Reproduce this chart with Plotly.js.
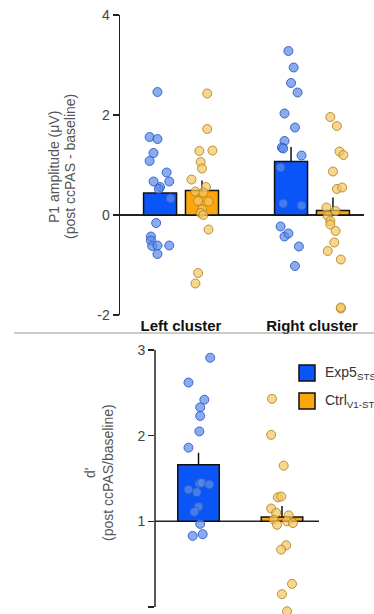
<!DOCTYPE html>
<html>
<head>
<meta charset="utf-8">
<script src="https://cdn.plot.ly/plotly-3.0.1.min.js"></script>
<style>html,body{margin:0;padding:0;background:#fff;}#chart{width:374px;height:614px;}</style>
</head>
<body>
<div id="chart"></div>
<script>
// ---------- DATA ----------
const clusters = ["Left cluster", "Right cluster"];
const seriesNames = ["Exp5<sub>STS</sub>", "Ctrl<sub>V1-STS</sub>"];

// Top panel: P1 amplitude (post ccPAS - baseline)
const p1ExpMean = [0.44, 1.07];
const p1ExpSem  = [0.14, 0.29];
const p1CtrlMean = [0.49, 0.09];
const p1CtrlSem  = [0.20, 0.26];

const p1ExpLeft = [2.46,1.56,1.52,1.24,1.08,0.85,0.67,0.67,0.56,0.52,0.33,-0.16,-0.43,-0.51,-0.62,-0.61,-0.61,-0.78];
const p1ExpLeftJit = [-0.02,-0.08,-0.02,-0.05,-0.08,0.05,-0.05,0.07,0,-0.01,0.08,-0.03,-0.07,-0.07,-0.06,-0.02,0.07,-0.02];
const p1CtrlLeft = [2.43,1.72,1.28,1.29,1.06,0.93,0.71,0.56,0.47,0.45,0.28,0.27,0.11,0.04,0.0,-0.29,-1.16,-1.37];
const p1CtrlLeftJit = [0.04,0.04,-0.02,0.08,-0.01,0,-0.08,0.03,-0.05,0.01,-0.03,0.05,0,-0.01,0.01,0.05,-0.03,-0.05];
const p1ExpRight = [3.28,2.95,2.64,2.45,2.03,1.75,1.48,1.35,1.33,1.19,0.95,0.23,0.19,-0.23,-0.43,-0.37,-0.63,-1.02];
const p1ExpRightJit = [-0.02,0.02,0,0.05,-0.05,0.03,-0.05,-0.07,-0.06,0.08,-0.08,-0.06,0.08,-0.08,-0.05,-0.02,0.06,0.03];
const p1CtrlRight = [1.96,1.78,1.27,1.20,0.87,0.52,0.55,0.15,0.08,-0.02,-0.12,-0.19,-0.32,-0.55,-0.72,-0.89,-1.87,-1.85];
const p1CtrlRightJit = [-0.02,0.03,0.05,0.08,0,0.03,0.07,-0.05,0.02,-0.04,-0.02,-0.02,0.02,0.01,-0.04,0.06,0.06,0.06];

// Bottom panel: d' (post ccPAS / baseline)
const dBaseline = 1;
const dMean = [1.66, 1.05];
const dSem  = [0.14, 0.13];
const dExp = [2.91,2.62,2.42,2.33,2.23,2.05,1.86,1.44,1.45,1.43,1.37,1.34,1.17,1.11,0.97,0.83,0.85];
const dExpJit = [0.14,-0.12,0.07,0.02,0.02,0.01,-0.12,0.01,0.04,0.13,-0.12,-0.02,0,-0.05,0.02,-0.07,0.05];
const dCtrl = [2.43,2.01,1.65,1.28,1.29,1.15,1.10,1.07,1.02,0.96,1.00,0.98,0.72,0.67,0.27,0.15,-0.05];
const dCtrlJit = [-0.12,-0.13,0.02,-0.05,-0.01,-0.13,-0.07,0.08,-0.1,-0.06,0.06,0.13,0.05,-0.01,0.12,0,0.06];

const yTicksTop = [-2, 0, 2, 4];
const yTicksBottom = [0, 1, 2, 3];

// ---------- STYLE ----------
const W = 374, H = 614;
const FONT = "Liberation Sans, Arial, sans-serif";
const blueBar = "#0a55f7", orangeBar = "#fba60c";
const bluePt = {color: "rgba(90,140,232,0.72)", line: {color: "rgba(40,85,200,0.85)", width: 1}, size: 9};
const orangePt = {color: "rgba(244,198,100,0.72)", line: {color: "rgba(175,130,30,0.85)", width: 1}, size: 9};
const side = 0.16;           // half distance between paired bars (top)
const topBarW = 0.252;
const botBarW = 0.497;

const px = v => v / W, py = v => 1 - v / H;

function pts(xc, jit, vals, mk, xa, ya) {
  return {type: "scatter", mode: "markers", x: vals.map((_, i) => xc + jit[i]), y: vals,
    marker: mk, xaxis: xa, yaxis: ya, showlegend: false, cliponaxis: false, hoverinfo: "y"};
}
const errStyle = (arr) => ({type: "data", symmetric: false, array: arr, arrayminus: arr.map(() => 0),
  color: "#111", thickness: 1.5, width: 0});

const idx = clusters.map((_, i) => i);
const traces = [
  {type: "bar", x: idx, y: p1ExpMean, width: topBarW, offset: -side - topBarW / 2,
   marker: {color: blueBar, line: {color: "#111", width: 1.5}}, error_y: errStyle(p1ExpSem),
   xaxis: "x", yaxis: "y", showlegend: false, name: "Exp5"},
  {type: "bar", x: idx, y: p1CtrlMean, width: topBarW, offset: side - topBarW / 2,
   marker: {color: orangeBar, line: {color: "#111", width: 1.5}}, error_y: errStyle(p1CtrlSem),
   xaxis: "x", yaxis: "y", showlegend: false, name: "Ctrl"},
  pts(0 - side, p1ExpLeftJit, p1ExpLeft, bluePt, "x", "y"),
  pts(0 + side, p1CtrlLeftJit, p1CtrlLeft, orangePt, "x", "y"),
  pts(1 - side, p1ExpRightJit, p1ExpRight, bluePt, "x", "y"),
  pts(1 + side, p1CtrlRightJit, p1CtrlRight, orangePt, "x", "y"),

  {type: "bar", x: [0, 1], y: dMean.map(m => m - dBaseline), base: dBaseline, width: botBarW, offset: -botBarW / 2,
   marker: {color: [blueBar, orangeBar], line: {color: "#111", width: 1.5}}, error_y: errStyle(dSem),
   xaxis: "x2", yaxis: "y2", showlegend: false},
  pts(0, dExpJit, dExp, bluePt, "x2", "y2"),
  pts(1, dCtrlJit, dCtrl, orangePt, "x2", "y2"),
];

const yAx = {linecolor: "#222", linewidth: 1.5, ticks: "outside", ticklen: 6,
  tickwidth: 1.5, tickcolor: "#222", showgrid: false, tickfont: {family: FONT, size: 14, color: "#444"},
  fixedrange: true};

// bottom axis: 0 sits at y=607 px, 3 at y=350 px; the panel runs to the page bottom
const botPxPerUnit = (607 - 350) / 3;
const botMin = -(614 - 607) / botPxPerUnit;

const layout = {
  width: W, height: H, margin: {l: 0, r: 0, t: 0, b: 0},
  paper_bgcolor: "#fff", plot_bgcolor: "rgba(0,0,0,0)",
  font: {family: FONT}, showlegend: false,
  xaxis: {domain: [px(120), px(364)], range: [-0.466, 1.397], showline: false, showgrid: false,
    zeroline: false, ticks: "", tickvals: idx, ticktext: clusters,
    tickfont: {family: FONT, size: 15, color: "#111", weight: "bold"}, anchor: "y", fixedrange: true},
  yaxis: Object.assign({}, yAx, {showline: true, domain: [py(315), py(15)], range: [-2, 4],
    tickvals: yTicksTop, ticktext: yTicksTop.map(String),
    zeroline: true, zerolinecolor: "#222", zerolinewidth: 1.5, anchor: "x"}),
  xaxis2: {domain: [px(155), px(319)], range: [-0.521, 1.443], showline: false, showgrid: false,
    zeroline: false, showticklabels: false, ticks: "", anchor: "y2", fixedrange: true},
  yaxis2: Object.assign({}, yAx, {showline: false, domain: [0, py(350)], range: [botMin, 3],
    tickvals: yTicksBottom, ticktext: yTicksBottom.map(String), zeroline: false, anchor: "x2"}),
  shapes: [
    {type: "line", xref: "x2 domain", yref: "y2", x0: 0, x1: 0, y0: yTicksBottom[0], y1: yTicksBottom[yTicksBottom.length - 1],
     line: {color: "#222", width: 1.5}, layer: "below"},
    {type: "line", xref: "x2 domain", yref: "y2", x0: 0, x1: 1, y0: dBaseline, y1: dBaseline,
     line: {color: "#222", width: 1.5}, layer: "below"},
    {type: "line", xref: "paper", yref: "paper", x0: px(14), x1: 1, y0: py(333), y1: py(333),
     line: {color: "#999", width: 1}},
    {type: "rect", xref: "paper", yref: "paper", x0: px(299), x1: px(315), y0: py(381), y1: py(365),
     fillcolor: blueBar, line: {color: "#111", width: 1.5}},
    {type: "rect", xref: "paper", yref: "paper", x0: px(299), x1: px(315), y0: py(409), y1: py(393),
     fillcolor: orangeBar, line: {color: "#111", width: 1.5}},
  ],
  annotations: [
    {text: "P1 amplitude (μV)", xref: "paper", yref: "paper", x: px(54), y: py(167), textangle: -90,
     showarrow: false, xanchor: "center", yanchor: "middle", font: {family: FONT, size: 14, color: "#555"}},
    {text: "(post ccPAS - baseline)", xref: "paper", yref: "paper", x: px(70), y: py(167), textangle: -90,
     showarrow: false, xanchor: "center", yanchor: "middle", font: {family: FONT, size: 14, color: "#555"}},
    {text: "d'", xref: "paper", yref: "paper", x: px(90), y: py(473), textangle: -90,
     showarrow: false, xanchor: "center", yanchor: "middle", font: {family: FONT, size: 14, color: "#555"}},
    {text: "(post ccPAS/baseline)", xref: "paper", yref: "paper", x: px(108), y: py(473), textangle: -90,
     showarrow: false, xanchor: "center", yanchor: "middle", font: {family: FONT, size: 14, color: "#555"}},
    {text: seriesNames[0], xref: "paper", yref: "paper", x: px(323), y: py(373), xanchor: "left",
     yanchor: "middle", showarrow: false, font: {family: FONT, size: 14, color: "#333"}},
    {text: seriesNames[1], xref: "paper", yref: "paper", x: px(323), y: py(401), xanchor: "left",
     yanchor: "middle", showarrow: false, font: {family: FONT, size: 14, color: "#333"}},
  ]
};

Plotly.newPlot("chart", traces, layout, {staticPlot: true, displayModeBar: false});
</script>
</body>
</html>
